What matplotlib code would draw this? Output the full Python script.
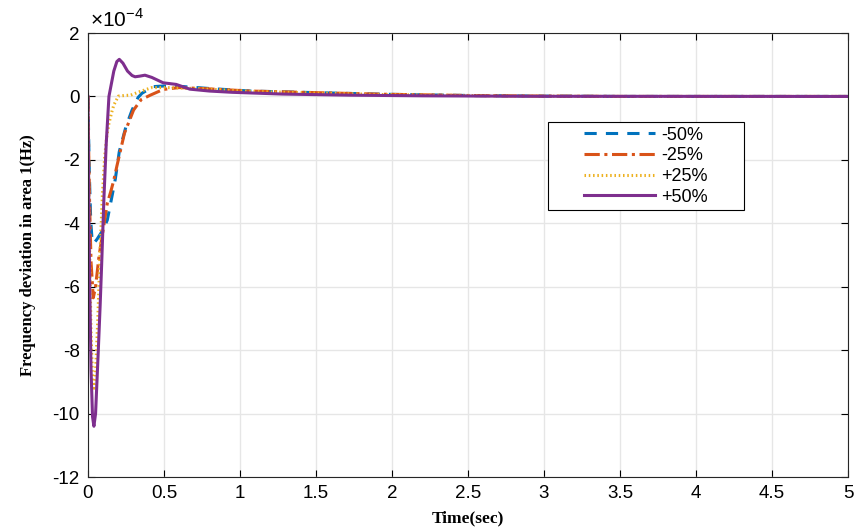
import numpy as np
import matplotlib.pyplot as plt
from matplotlib.patches import Rectangle

plt.rcParams['axes.unicode_minus'] = False
plt.rcParams['mathtext.fontset'] = 'custom'
plt.rcParams['mathtext.rm'] = 'Liberation Sans'

# данные (значения в единицах 1e-4 Гц)
t_m50 = [0, 0.005, 0.01, 0.018, 0.028, 0.04, 0.06, 0.08, 0.1, 0.127, 0.16, 0.18, 0.206,
         0.25, 0.29, 0.33, 0.355, 0.43, 0.5, 0.63, 0.8, 1.07, 1.5, 1.94, 2.5, 3.0, 3.5, 5.0]
y_m50 = [0, -1.4, -2.6, -3.9, -4.6, -4.62, -4.5, -4.35, -4.2, -3.9, -3.1, -2.6, -1.74,
         -0.95, -0.43, -0.03, 0.1, 0.31, 0.33, 0.31, 0.25, 0.17, 0.12, 0.07, 0.03, 0.01, 0.0, 0.0]

t_m25 = [0, 0.005, 0.01, 0.02, 0.035, 0.05, 0.072, 0.1, 0.127, 0.15, 0.17, 0.19, 0.24,
         0.30, 0.35, 0.41, 0.495, 0.6, 0.75, 1.07, 1.5, 1.94, 2.5, 3.0, 3.5, 5.0]
y_m25 = [0, -1.8, -3.2, -5.2, -6.35, -6.0, -5.06, -4.2, -3.37, -3.0, -2.64, -2.2, -1.16,
         -0.43, -0.1, 0.04, 0.22, 0.28, 0.25, 0.17, 0.12, 0.07, 0.03, 0.01, 0.0, 0.0]

t_p25 = [0, 0.005, 0.01, 0.02, 0.03, 0.04, 0.05, 0.065, 0.079, 0.095, 0.11, 0.125, 0.138,
         0.156, 0.17, 0.2, 0.24, 0.28, 0.34, 0.42, 0.5, 0.6, 0.8, 1.07, 1.5, 1.94, 2.5, 3.0, 3.5, 5.0]
y_p25 = [0, -2.5, -4.6, -7.4, -8.9, -9.2, -8.7, -7.0, -4.95, -3.1, -1.9, -1.2, -0.85,
         -0.5, -0.27, 0.01, 0.03, 0.04, 0.15, 0.28, 0.28, 0.27, 0.23, 0.16, 0.11, 0.06, 0.03, 0.01, 0.0, 0.0]

t_p50 = [0, 0.005, 0.01, 0.02, 0.03, 0.039, 0.05, 0.068, 0.08, 0.09, 0.105, 0.12, 0.138,
         0.15, 0.17, 0.19, 0.206, 0.23, 0.26, 0.29, 0.31, 0.34, 0.375, 0.42, 0.495, 0.58,
         0.67, 0.8, 0.95, 1.28, 1.72, 2.2, 3.0, 5.0]
y_p50 = [0, -3.0, -5.4, -8.6, -10.1, -10.4, -10.0, -8.0, -6.6, -5.3, -3.2, -1.5, 0.0,
         0.3, 0.8, 1.1, 1.17, 1.05, 0.8, 0.66, 0.62, 0.64, 0.67, 0.6, 0.43, 0.38,
         0.23, 0.17, 0.13, 0.075, 0.04, 0.02, 0.005, 0.0]

labels = ['-50%', '-25%', '+25%', '+50%']
colors = ['#0072BD', '#D95319', '#EDB120', '#7E2F8E']
xtick_labels = ['0', '0.5', '1', '1.5', '2', '2.5', '3', '3.5', '4', '4.5', '5']
ytick_vals = [-12, -10, -8, -6, -4, -2, 0, 2]

fig = plt.figure(figsize=(8.65, 5.3), dpi=100)
ax = fig.add_axes([0.1017, 0.1, 0.8786, 0.8377])

ax.plot(t_m50, y_m50, color=colors[0], lw=2.2, ls=(0, (4, 3)), label=labels[0])
ax.plot(t_m25, y_m25, color=colors[1], lw=2.2, ls=(0, (5, 1.5, 1, 1.5)), label=labels[1])
ax.plot(t_p25, y_p25, color=colors[2], lw=2.2, ls=(0, (0.5, 0.9)), label=labels[2])
ax.plot(t_p50, y_p50, color=colors[3], lw=2.2, ls='-', label=labels[3])

ax.set_xlim(0, 5)
ax.set_ylim(-12, 2)
ax.set_xticks(np.arange(0, 5.01, 0.5))
ax.set_xticklabels(xtick_labels)
ax.set_yticks(ytick_vals)
ax.set_yticklabels([str(v) for v in ytick_vals])

# множитель оси как в MATLAB
ax.text(0.003, 1.004, r'$\times10^{-4}$', transform=ax.transAxes, ha='left', va='bottom',
        fontsize=15)

ax.grid(True, color='#e6e6e6', lw=1)
ax.set_axisbelow(True)
ax.tick_params(direction='in', top=True, right=True, length=5, labelsize=13.5, pad=6)
for lab in ax.get_xticklabels() + ax.get_yticklabels():
    lab.set_family('Liberation Sans')
for s in ax.spines.values():
    s.set_color('#262626')

ax.set_xlabel('Time(sec)', family='Liberation Serif', fontweight='bold', fontsize=12.5, labelpad=6)
ax.set_ylabel('Frequency deviation in area 1(Hz)', family='Liberation Serif', fontweight='bold',
              fontsize=12, labelpad=12)

# рамка легенды отдельно, с широкими полями как в MATLAB
box = Rectangle((0.605, 0.601), 0.258, 0.199, transform=ax.transAxes, facecolor='white',
                edgecolor='black', lw=0.8, zorder=5)
ax.add_patch(box)
leg = ax.legend(loc='center', bbox_to_anchor=(0.734, 0.70), frameon=False, handlelength=3.9,
                prop={'family': 'Liberation Sans', 'size': 13},
                borderpad=0, labelspacing=0.2, handletextpad=0.35, borderaxespad=0)
leg.set_zorder(6)

fig.savefig('out.png', dpi=100)
